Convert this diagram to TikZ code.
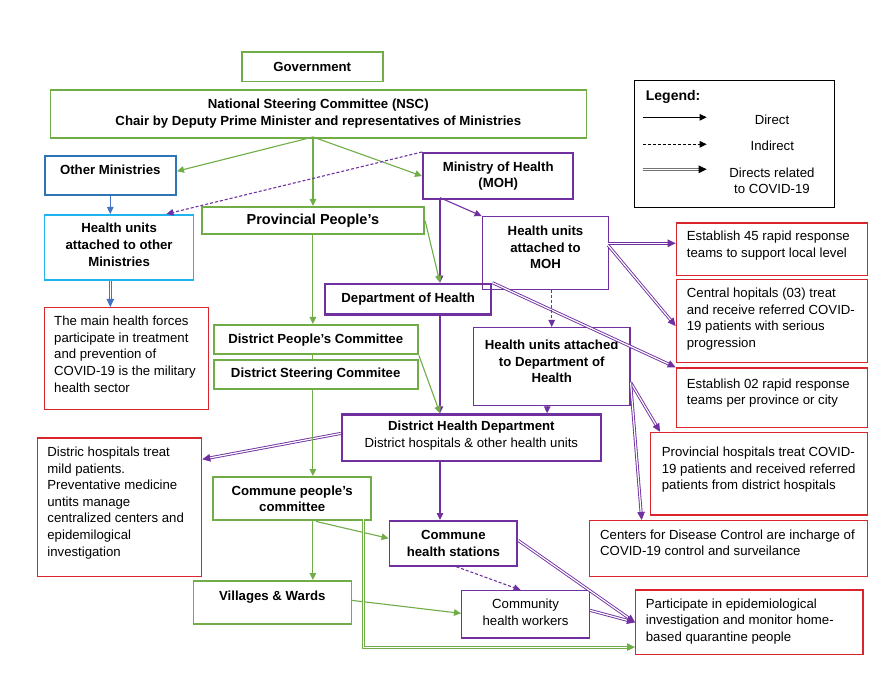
\documentclass[tikz,border=0pt]{standalone}
\usepackage{fontspec}
\setmainfont{Liberation Sans}
\usetikzlibrary{arrows.meta,calc}
\definecolor{grn}{HTML}{70AD47}
\definecolor{purp}{HTML}{7030A0}
\definecolor{redb}{HTML}{D9252B}
\definecolor{omb}{HTML}{2E75B6}
\definecolor{lblue}{HTML}{1FB4F0}
\definecolor{arb}{HTML}{4472C4}
\newcommand\mybf{\fontsize{13.2}{16.6}\selectfont\bfseries}
\newcommand\myrm{\fontsize{13.2}{16.6}\selectfont\mdseries}
\begin{document}
\begin{tikzpicture}[x=1pt,y=-1pt,
  box/.style={draw, inner sep=0pt, anchor=north west, align=center, font=\mybf},
  gbox/.style={box, draw=grn, line width=#1},
  pbox/.style={box, draw=purp, line width=#1},
  rbox/.style={box, draw=redb, line width=1.4pt},
  ctr/.style={inner sep=0pt, align=center, font=\mybf},
  ltxt/.style={inner sep=0pt, align=left, font=\myrm, anchor=north west},
  arr/.style={draw=#1, line width=1.1pt, -{Triangle[length=7pt,width=6.5pt]}},
  dsh/.style={dash pattern=on 3pt off 2pt},
  dbl/.style={draw=#1, line width=0.9pt, double=white, double distance=1.2pt, -{Triangle[length=8pt,width=7.5pt]}}
]
\useasboundingbox (0,0) rectangle (887,679);
\fill[white] (0,0) rectangle (887,679);

% boxes
\node[gbox=1.5pt, minimum width=141, minimum height=29.5] (gov) at (241,51.5) {Government};
\node[gbox=1.6pt, minimum width=536, minimum height=48] (nsc) at (49.5,89)
  {National Steering Committee (NSC)\\Chair by Deputy Prime Minister and representatives of Ministries};
\node[box, draw=omb, line width=2.4pt, minimum width=131, minimum height=39,
  label={[ctr,yshift=6pt]center:Other Ministries}] (om) at (43.6,155) {};
\node[pbox=2.4pt, minimum width=150, minimum height=45.7] (moh) at (422,152) {Ministry of Health\\(MOH)};
\node[box, draw=lblue, line width=1.6pt, minimum width=149, minimum height=65,
  label={[ctr,yshift=2.5pt]center:{Health units\\attached to other\\Ministries}}] (hum) at (43.8,214) {};
\node[gbox=2.4pt, minimum width=222, minimum height=27, font=\fontsize{14.5}{17}\selectfont\bfseries] (pp) at (200.7,206) {Provincial People’s};
\node[pbox=1.3pt, minimum width=126.5, minimum height=72.7,
  label={[ctr,yshift=5.6pt]center:{Health units\\attached to\\MOH}}] (hmoh) at (481.6,216) {};
\node[pbox=2.4pt, minimum width=166, minimum height=30.6] (doh) at (324,282.7) {Department of Health};
\node[rbox, minimum width=164.2, minimum height=102,
  label={[ltxt,xshift=10.2pt,yshift=-9pt]north west:{The main health forces\\participate in treatment\\and prevention of\\COVID-19 is the military\\health sector}}] (mhf) at (43.8,307) {};
\node[gbox=2.4pt, minimum width=204, minimum height=29] (dpc) at (212.5,324) {District People’s Committee};
\node[gbox=2.4pt, minimum width=204, minimum height=28.7] (dsc) at (212.5,359) {District Steering Commitee};
\node[pbox=1.3pt, minimum width=156.5, minimum height=78,
  label={[ctr,yshift=5pt]center:{Health units attached\\to Department of\\Health}}] (hdoh) at (472.8,327) {};
\node[rbox, minimum width=191.3, minimum height=52.7,
  label={[ltxt,xshift=11pt,yshift=-8.7pt]north west:{Establish 45 rapid response\\teams to support local level}}] (e45) at (675.7,222.3) {};
\node[rbox, minimum width=191.3, minimum height=82.7,
  label={[ltxt,xshift=11pt,yshift=-8.7pt]north west:{Central hopitals (03) treat\\and receive referred COVID-\\19 patients with serious\\progression}}] (cen) at (675.7,279) {};
\node[rbox, minimum width=191.3, minimum height=59.5,
  label={[ltxt,xshift=11pt,yshift=-11pt]north west:{Establish 02 rapid response\\teams per province or city}}] (e02) at (675.7,367.3) {};
\node[pbox=2.4pt, minimum width=258.7, minimum height=46.7,
  label={[ctr,yshift=2pt]center:{District Health Department\\{\myrm District hospitals \& other health units}}}] (dhd) at (340.8,413.3) {};
\node[rbox, minimum width=164, minimum height=138.4,
  label={[ltxt,xshift=10.3pt,yshift=-9.4pt]north west:{Distric hospitals treat\\mild patients.\\Preventative medicine\\untits manage\\centralized centers and\\epidemilogical\\investigation}}] (dh) at (36.9,437.3) {};
\node[rbox, minimum width=216.7, minimum height=82.6,
  label={[ltxt,xshift=11.7pt,yshift=-15pt]north west:{Provincial hospitals treat COVID-\\19 patients and received referred\\patients from district hospitals}}] (ph) at (650,431.7) {};
\node[gbox=2.4pt, minimum width=158, minimum height=43] (ccp) at (212,476) {Commune people’s\\committee};
\node[pbox=1.7pt, minimum width=127.8, minimum height=45] (chs) at (388.6,520) {Commune\\health stations};
\node[rbox, minimum width=277.7, minimum height=55.7,
  label={[ltxt,xshift=11pt,yshift=-9.3pt]north west:{Centers for Disease Control are incharge of\\COVID-19 control and surveilance}}] (cdc) at (589,520) {};
\node[gbox=1.5pt, minimum width=158, minimum height=43.3,
  label={[ctr,yshift=5.6pt]center:Villages \& Wards}] (vw) at (192.6,580) {};
\node[pbox=1.4pt, minimum width=127.7, minimum height=47.3,
  label={[ctr,font=\myrm,yshift=2pt]center:{Community\\health workers}}] (chw) at (461,590) {};
\node[rbox, minimum width=227.3, minimum height=64.7,
  label={[ltxt,xshift=10.7pt,yshift=-9pt]north west:{Participate in epidemiological\\investigation and monitor home-\\based quarantine people}}] (part) at (635,589.3) {};

% legend
\node[box, draw=black, line width=1.3pt, minimum width=200, minimum height=126.7] (leg) at (634,80) {};
\node[anchor=west, inner sep=0pt, font=\fontsize{14}{16}\selectfont\bfseries] (legt) at (645.7,96.8) {Legend:};
\coordinate (la1) at (642.7,117.3); \coordinate (la2) at (706.7,117.3);
\coordinate (lb1) at (642.7,144.3); \coordinate (lb2) at (706.7,144.3);
\coordinate (lc1) at (642.7,169.3); \coordinate (lc2) at (706.7,169.3);
\draw[arr=black] (la1) -- (la2);
\draw[arr=black, dsh] (lb1) -- (lb2);
\draw[dbl=black!55, -{Triangle[length=8pt,width=7.5pt,color=black]}] (lc1) -- (lc2);
\node[inner sep=0pt, font=\myrm] (ld) at (772,119.8) {Direct};
\node[inner sep=0pt, font=\myrm] (li) at (772.3,146.2) {Indirect};
\node[inner sep=0pt, align=center, font=\myrm] (lr) at (772,180.8) {Directs related\\to COVID-19};

% connectors
\coordinate (nscb) at (313,137);
\coordinate (mohb) at (440,197.7);
\draw[arr=grn] (nscb) -- ($(om.east)+(0,-4.5)$);
\draw[arr=grn] (nscb) -- (moh.west);
\draw[arr=grn] (nscb) -- (nscb |- pp.north);
\draw[arr=purp, dsh] (moh.north west) -- ($(hum.north east)+(-28,0)$);
\draw[arr=arb] (om.south) -- (om.south |- hum.north);
\draw[dbl=arb] (om.south |- hum.south) -- (om.south |- mhf.north);
\draw[arr=purp] (mohb) -- (hmoh.north west);
\draw[arr=purp] (mohb) -- (mohb |- doh.north);
\draw[arr=grn] (pp.east) -- (mohb |- doh.north);
\coordinate (hmohR) at (608.1,243.3);
\draw[dbl=purp] (hmohR) -- (hmohR -| e45.west);
\draw[dbl=purp] ($(hmohR)+(0,2)$) -- ($(cen.west)+(0,5)$);
\draw[dbl=purp] (doh.north east) -- (e02.north west);
\draw[arr=purp, dsh] (hdoh.north |- hmoh.south) -- (hdoh.north);
\draw[arr=purp] (mohb |- doh.south) -- (mohb |- dhd.north);
\draw[arr=grn] (dpc.south east) -- (mohb |- dhd.north);
\coordinate (hd1) at ($(hdoh.south)+(-4.5,0)$);
\draw[arr=purp] (hd1) -- (hd1 |- dhd.north);
\coordinate (hdR) at ($(hdoh.east)+(0,15.7)$);
\draw[dbl=purp] (hdR) -- ($(ph.north west)+(10,0)$);
\draw[dbl=purp] (hdR) -- ($(cdc.north west)+(52.7,0)$);
\draw[dbl=purp] ($(dhd.west)+(0,-4.4)$) -- ($(dh.north east)+(0,22)$);
\draw[arr=purp] (mohb |- dhd.south) -- (mohb |- chs.north);
\draw[arr=grn] (pp.south) -- (pp.south |- dpc.north);
\draw[grn, line width=1.1pt] (pp.south |- dpc.south) -- (pp.south |- dsc.north);
\draw[arr=grn] (pp.south |- dsc.south) -- (pp.south |- ccp.north);
\draw[arr=grn] (pp.south |- ccp.south) -- (pp.south |- vw.north);
\draw[arr=grn] ($(pp.south |- ccp.south)+(3,0)$) -- ($(chs.west)+(0,-5)$);
\draw[arr=grn] ($(vw.east)+(0,-2)$) -- ($(chw.west)+(0,-1)$);
\draw[arr=purp, dsh] ($(chs.south)+(3,0)$) -- ($(chw.north)+(-5,0)$);
\draw[dbl=purp] ($(chs.east)+(0,-3)$) -- (part.west);
\draw[dbl=purp] ($(chw.east)+(0,-4)$) -- (part.west);
\coordinate (ccpR) at (363.3,519);
\coordinate (partG) at ($(part.south west)+(0,-8.3)$);
\draw[dbl=grn] (ccpR) -- (ccpR |- partG) -- (partG);
\end{tikzpicture}
\end{document}
